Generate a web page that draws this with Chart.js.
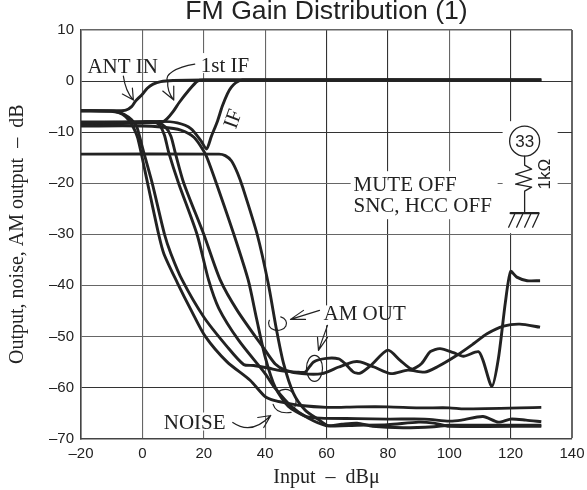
<!DOCTYPE html>
<html><head><meta charset="utf-8">
<style>html,body{margin:0;padding:0;background:#fff}canvas{display:block}</style>
<script src="https://cdn.jsdelivr.net/npm/chart.js@4"></script>
</head><body><canvas id="c" width="587" height="490"></canvas>
<script>
const xTicks=[-20,0,20,40,60,80,100,120,140];
const yTicks=[10,0,-10,-20,-30,-40,-50,-60,-70];
const antInGain=[[-20,-5.8],[-8,-5.8],[-5.4,-5.7],[-3.5,-5],[-2.2,-3.9],[0,-2.6],[1.6,-1.4],[3.5,-.6],[6,-.1],[10,.1],[20,.2],[130,.2]];
const firstIfGain=[[-20,-8],[6.5,-8],[8,-7.4],[10,-6],[12,-4.2],[15,-1.9],[18,0],[20,.2],[130,.2]];
const ifGain=[[-20,-8.2],[6,-7.9],[11.4,-8.2],[15.8,-9.3],[19,-11.6],[20.9,-13.3],[22.5,-10.8],[24.5,-7.8],[26,-5],[27.7,-2.5],[29,-1.2],[30.5,-.3],[32.6,.2],[130,.2]];
const noiseA=[[-20,-5.8],[-9,-6],[-6.5,-6.5],[-4.5,-7.6],[-3,-9],[-1.5,-11.2],[1.7,-20],[5.3,-30],[7,-33.8],[11.4,-39.5],[16,-45],[20.5,-50],[27.6,-55],[35.1,-58.6],[40,-61.8],[43.2,-62.6],[46.5,-63],[51,-63.5],[60,-63.9],[70,-63.8],[80,-63.8],[90,-64],[100,-64],[105,-64.2],[130,-63.9]];
const amA=[[-20,-5.8],[-9,-5.9],[-6,-6.5],[-3.5,-7.6],[-1.8,-9],[0,-13],[3.2,-20],[7.2,-30],[9.3,-33.8],[13,-39],[20,-46.2],[27.6,-52],[33,-55.5],[36.3,-55.7],[41,-56.2],[44.9,-56.7],[50.3,-57],[53,-57],[55.8,-55],[60,-54.3],[64,-54.4],[66,-55.3],[68.8,-57],[71,-57.2],[74.4,-55.7],[80,-52.7],[84,-54.7],[87.8,-56.4],[91,-55.3],[93.8,-53],[97,-52.4],[101.4,-53.2],[104.6,-53.9],[109.5,-53],[111,-54.7],[113.9,-59.8],[116,-54.4],[118.3,-43.3],[120,-37.3],[122,-38.4],[125.4,-39.1],[129.6,-39.1]];
const noiseB=[[-20,-8.3],[0,-8],[4,-8],[5.8,-8.8],[7.2,-10.6],[8.6,-14],[11.8,-20],[17.8,-30],[21.6,-39],[24.9,-44.5],[31.4,-50.8],[40,-57.3],[43.3,-60.2],[48.7,-63.8],[54,-66],[60,-67.5],[65,-67.2],[70,-67],[75,-67.6],[85,-67.9],[95,-67.7],[100,-67.4],[130,-67.4]];
const amB=[[-20,-8.6],[0,-8.2],[5,-8.2],[7.5,-9],[9.3,-10.8],[10.7,-14],[13.5,-20],[20,-30],[25.4,-39],[31,-45],[40,-52.7],[43.3,-55.4],[46.5,-56.6],[52,-57.3],[58.5,-57.3],[64,-56],[68.8,-55],[71,-55],[75.5,-56],[81,-57.3],[86.5,-56.6],[92,-57],[96,-56],[102.5,-53.7],[108,-51.4],[112.3,-49.5],[117.7,-48],[123,-47.6],[129.6,-48.2]];
const noiseC=[[-20,-8.8],[0,-8.8],[6,-9],[12.5,-9.6],[16.8,-11],[20,-13.7],[21.2,-15.2],[24.1,-20],[29.8,-30],[34.5,-39],[37.2,-46.5],[40,-54],[43.3,-60],[47.6,-63.7],[53,-65.6],[58,-66],[70,-66.1],[80,-66.2],[92,-66.2],[100,-66.6],[104,-66.4],[111,-65.7],[116,-66.8],[120,-66.2],[125,-66.4],[130,-66.7]];
const noiseD=[[-20,-14.3],[25,-14.3],[27,-14.6],[29,-15.6],[31,-18],[32.8,-21],[37.4,-30],[41,-39.6],[43.8,-49],[46,-55.3],[49.2,-61.1],[53,-64.4],[57.4,-66.3],[60.6,-67.5],[70,-67.4],[80,-67.3],[90,-66.8],[95,-67],[100,-67.6],[130,-67.6]];
const curves=[antInGain,firstIfGain,ifGain,noiseA,amA,noiseB,amB,noiseC,noiseD];
const darkGridX=[60,80,120];
const darkGridY=[0,-10,-60];

const annotations={id:'annotations',
 beforeDatasetsDraw(ch){
  const g=ch.ctx,xs=ch.scales.x,ys=ch.scales.y;
  const at=(a,b)=>[xs.getPixelForValue(a),ys.getPixelForValue(b)];
  g.save();g.fillStyle='#fff';
  const [ax,ay]=at(120,-20);
  [[-160,-12,147,48],[-8,-62,55,112]].forEach(r=>g.fillRect(ax+r[0],ay+r[1],r[2],r[3]));
  const [bx,by]=at(20,0);g.fillRect(bx-4,by-28,8,20);
  const [cx,cy]=at(60,-50);g.fillRect(cx-4,cy-31,8,20);
  const [dx,dy]=at(20,-70);g.fillRect(dx-4,dy-26,8,18);
  g.restore();
 },
 afterDatasetsDraw(ch){
  const g=ch.ctx,xs=ch.scales.x,ys=ch.scales.y;
  const at=(a,b)=>[xs.getPixelForValue(a),ys.getPixelForValue(b)];
  const serif='21px "Liberation Serif"';
  g.save();g.fillStyle='#222';g.strokeStyle='#222';g.lineCap='round';g.lineJoin='round';
  const txt=(s,a,b,ox,oy,f)=>{const[p,q]=at(a,b);g.font=f||serif;g.textAlign='left';g.textBaseline='alphabetic';g.fillText(s,p+ox,q+oy);};
  txt('ANT IN',0,0,-55,-8);
  txt('1st IF',20,0,-3,-9);
  txt('MUTE OFF',60,-20,27,8);
  txt('SNC, HCC OFF',60,-20,27,29);
  txt('AM OUT',60,-50,-3,-16);
  txt('NOISE',20,-70,-40,-10);
  const path=(a,b,fn,w)=>{const[p,q]=at(a,b);g.save();g.translate(p,q);g.lineWidth=w||1.2;g.beginPath();fn();g.stroke();g.restore();};
  // ANT IN leader
  path(0,0,()=>{g.moveTo(-19,-5);g.quadraticCurveTo(-17,10,-9,19);g.moveTo(-20,13);g.lineTo(-9,19);g.lineTo(-10,7);});
  // 1st IF leader
  path(20,0,()=>{g.moveTo(-9,-17);g.bezierCurveTo(-28,-14,-40,-6,-36,0);g.quadraticCurveTo(-37,10,-30,19);g.moveTo(-41,10);g.lineTo(-30,19);g.lineTo(-30,5);});
  // AM OUT leaders and loops
  path(60,-50,()=>{g.moveTo(-7,-26);g.lineTo(-36,-17);g.moveTo(-23,-26);g.lineTo(-36,-17);g.lineTo(-21,-17);});
  path(60,-50,()=>{g.moveTo(1,-11);g.lineTo(-8,14);g.moveTo(-9,1);g.lineTo(-8,14);g.lineTo(1,1);});
  path(60,-50,()=>{g.ellipse(-49,-13,9,7,0,-1.2,3.6);});
  path(60,-50,()=>{g.ellipse(-12,32,8,13,0,0,6.283);});
  // NOISE leader and loops
  path(20,-70,()=>{g.moveTo(29,-16);g.quadraticCurveTo(48,-3,67,-23);g.moveTo(54,-21);g.lineTo(67,-23);g.lineTo(60,-11);});
  path(40,-60,()=>{g.ellipse(20,14,11,12,0,-2.3,.6);g.moveTo(8,17);g.quadraticCurveTo(11,27,26,25);});
  // IF label
  const[p,q]=at(20,-10);g.save();g.translate(p+30,q-13);g.rotate(-1.22);g.font=serif;g.textAlign='center';g.textBaseline='middle';g.fillText('IF',0,0);g.restore();
  // Pin, resistor, ground
  const[sx,sy]=at(120,-20);
  g.save();g.translate(sx,sy);g.lineWidth=1.3;g.fillStyle='#222';
  g.beginPath();g.arc(14,-42,15,0,6.283);g.stroke();
  g.font='17px "Liberation Sans"';g.textAlign='center';g.textBaseline='middle';g.fillText('33',14,-41);
  g.beginPath();g.moveTo(14,-27);g.lineTo(14,-18);g.lineTo(21,-14);g.lineTo(5,-9);g.lineTo(21,-4);g.lineTo(5,1);g.lineTo(21,4);g.lineTo(14,8);g.lineTo(14,30);g.stroke();
  g.lineWidth=2.2;g.beginPath();g.moveTo(0,30);g.lineTo(28,30);g.stroke();
  g.lineWidth=1.3;g.beginPath();[4,12,20,28].forEach(v=>{g.moveTo(v,31);g.lineTo(v-6,44);});g.stroke();
  g.save();g.translate(35,-9);g.rotate(-Math.PI/2);g.font='17px "Liberation Sans"';g.fillText('1kΩ',0,0);g.restore();
  g.restore();
  g.restore();
 }};

new Chart(document.getElementById('c'),{
 type:'scatter',
 data:{datasets:curves.map(c=>({data:c.map(p=>({x:p[0],y:p[1]})),showLine:true,borderColor:'#222',borderWidth:2.9,pointRadius:0,tension:0.25,fill:false,clip:false}))},
 options:{responsive:false,animation:false,events:[],
  layout:{padding:{left:0,right:0,top:1,bottom:0}},
  plugins:{legend:{display:false},tooltip:{enabled:false},
   title:{display:true,text:'FM Gain Distribution (1)',fullSize:false,color:'#222',font:{family:'"Liberation Sans"',size:26.6,weight:'normal',lineHeight:1},padding:{top:-3,bottom:5.4}}},
  scales:{
   x:{type:'linear',min:-20,max:140,afterFit:s=>{s.height=51.5;s.paddingRight=15;},
    afterBuildTicks:s=>{s.ticks=xTicks.map(v=>({value:v}));},
    border:{color:'#444',width:1.6},
    grid:{drawTicks:false,color:c=>darkGridX.includes(c.tick.value)?'#333':'#666',lineWidth:c=>c.tick.value===140?2:1.1},
    ticks:{color:'#222',padding:6,maxRotation:0,autoSkip:false,font:{family:'"Liberation Sans"',size:15},callback:v=>String(v).replace('-','–')},
    title:{display:true,text:'Input  –  dBμ',color:'#222',font:{family:'"Liberation Serif"',size:20},padding:{top:2,bottom:0}}},
   y:{type:'linear',min:-70,max:10,afterFit:s=>{s.width=81;},
    afterBuildTicks:s=>{s.ticks=yTicks.map(v=>({value:v}));},
    border:{color:'#444',width:1.6},
    grid:{drawTicks:false,color:c=>darkGridY.includes(c.tick.value)?'#333':'#666',lineWidth:c=>c.tick.value===10?1.6:1.1},
    ticks:{color:'#222',padding:7,autoSkip:false,font:{family:'"Liberation Sans"',size:15},callback:v=>String(v).replace('-','–')},
    title:{display:true,text:'Output, noise, AM output  –  dB',color:'#222',font:{family:'"Liberation Serif"',size:20},padding:{top:6,bottom:0}}}
  }},
 plugins:[annotations]
});
</script></body></html>
